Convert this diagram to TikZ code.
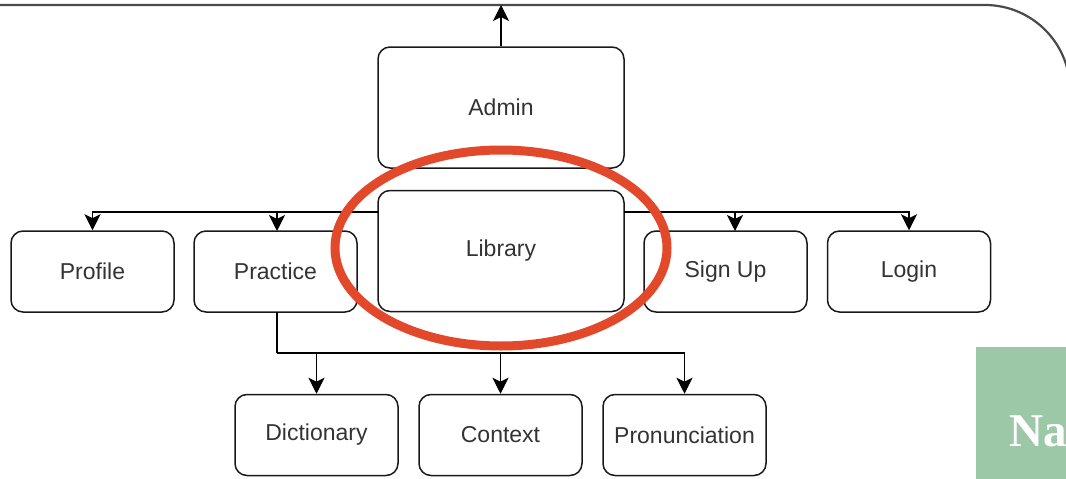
\documentclass[tikz,border=0pt]{standalone}
\usepackage{fontspec}
\setmainfont{Liberation Sans}
\newfontfamily\seriffont{Liberation Serif}
\usetikzlibrary{arrows.meta}
\definecolor{txtgray}{HTML}{333333}
\definecolor{framegray}{HTML}{4A4A4A}
\definecolor{hlred}{HTML}{E2492A}
\definecolor{greenbox}{HTML}{9DC8A8}
\begin{document}
\begin{tikzpicture}[x=1pt,y=-1pt,
  box/.style={draw=black!90, rounded corners=12pt, line width=1.5pt, inner sep=0pt,
    text=txtgray, font=\fontsize{23}{26}\selectfont},
  bigbox/.style={box, minimum width=246pt, minimum height=121pt},
  smallbox/.style={box, minimum width=163pt, minimum height=81pt},
  conn/.style={draw=black, line width=1.5pt},
  arr/.style={conn, -{Stealth[length=16pt,width=16pt,inset=4pt]}},
  frameline/.style={draw=framegray, line width=2.2pt},
  highlight/.style={draw=hlred, line width=9pt}]
\useasboundingbox (0,0) rectangle (1066,479);
% outer frame
\draw[frameline] (-5,5) -- (985,5) arc[start angle=-90,end angle=0,radius=85] -- (1070,490);
\coordinate (topc) at (501,5);
% nodes
\node[bigbox] (admin) at (501,107.5) {Admin};
\node[bigbox] (library) at (501,251) {Library};
\node[smallbox] (profile) at (92.5,271.5) {Profile};
\node[smallbox] (practice) at (275.5,271.5) {Practice};
\node[smallbox] (signup) at (725.5,271.5) {Sign Up};
\node[smallbox] (login) at (909,271.5) {Login};
\node[smallbox] (dict) at (316.5,435) {Dictionary};
\node[smallbox] (context) at (500.5,435) {Context};
\node[smallbox] (pron) at (684.5,435) {Pronunciation};
% connectors
\draw[arr] (admin.north) -- (topc);
\coordinate (libL) at (378,212);
\coordinate (libR) at (624,212);
\draw[arr] (libL) -| (profile.north);
\draw[arr] (libL) -| (277,231);
\draw[arr] (libR) -| (735,231);
\draw[arr] (libR) -| (login.north);
\coordinate (pbot) at (277,312);
\coordinate (pmid) at (277,353);
\draw[conn] (pbot) -- (pmid);
\draw[arr] (pmid) -| (dict.north);
\draw[arr] (pmid) -| (context.north);
\draw[arr] (pmid) -| (pron.north);
% highlight
\draw[highlight] (501,248) ellipse [x radius=166, y radius=98];
% green box
\fill[greenbox] (976,347) rectangle (1070,485);
\node[anchor=base west, inner sep=0pt, text=white, font=\seriffont\bfseries\fontsize{47}{50}\selectfont] (na) at (1009,446) {Na};
\end{tikzpicture}
\end{document}
